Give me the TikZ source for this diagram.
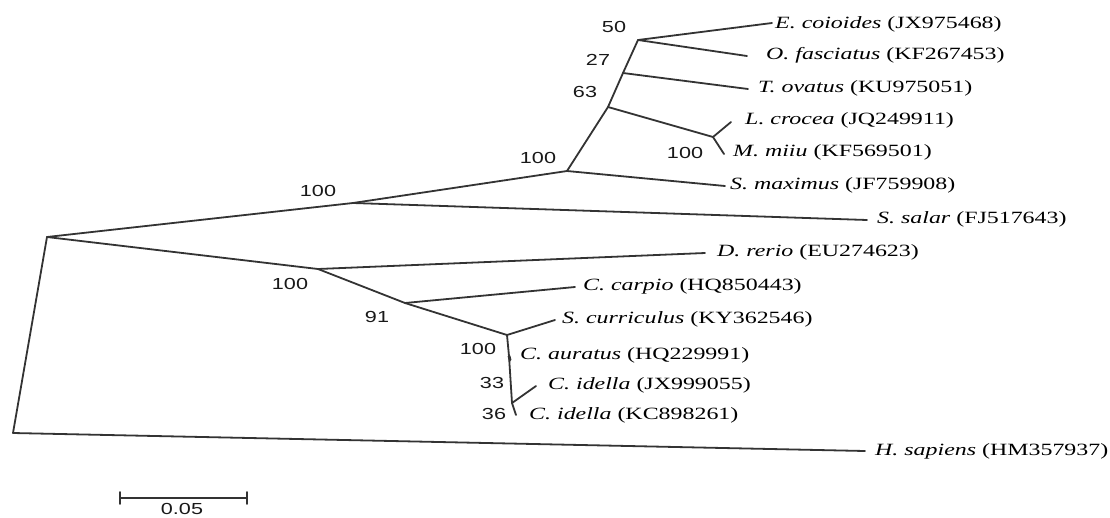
\documentclass[tikz,border=0pt]{standalone}
\usepackage{fontspec}
\newfontfamily\leaffont{Liberation Serif}[FakeStretch=1.39]
\newfontfamily\bsfont{Liberation Sans}[FakeStretch=1.35]
\begin{document}
\begin{tikzpicture}[x=1pt,y=-1pt,
  br/.style={draw=black!80, line width=1.8pt, line join=round, line cap=round},
  leaf/.style={anchor=west, inner sep=0pt, font=\leaffont\fontsize{17.2}{20}\selectfont},
  bs/.style={inner sep=0pt, font=\bsfont\fontsize{16}{19}\selectfont, text=black!90}]
\useasboundingbox (0,0) rectangle (1110,517);
% internal nodes
\coordinate (R) at (47,237);
\coordinate (Hc) at (13,433);
\coordinate (A) at (353,203);
\coordinate (B) at (567,171);
\coordinate (C) at (608,107);
\coordinate (D) at (623,73);
\coordinate (F) at (638,40);
\coordinate (E) at (713,137);
\coordinate (H) at (318,269);
\coordinate (I) at (405,303);
\coordinate (J) at (507,335);
\coordinate (K) at (509,356);
\coordinate (L) at (512,403);
% leaf ends
\coordinate (eco) at (772,23);
\coordinate (ofa) at (747,56);
\coordinate (tov) at (748,89);
\coordinate (lcr) at (731,122);
\coordinate (mmi) at (724,154);
\coordinate (smx) at (725,186);
\coordinate (ssa) at (867,220);
\coordinate (dre) at (705,253);
\coordinate (cca) at (575,287);
\coordinate (scu) at (555,320);
\coordinate (cau) at (510,360);
\coordinate (cij) at (536,386);
\coordinate (cik) at (516,415);
\coordinate (hsa) at (865,451);
% branches
\draw[br] (R) -- (A) -- (B) -- (C) -- (D) -- (F) -- (eco);
\draw[br] (F) -- (ofa);
\draw[br] (D) -- (tov);
\draw[br] (C) -- (E) -- (lcr);
\draw[br] (E) -- (mmi);
\draw[br] (B) -- (smx);
\draw[br] (A) -- (ssa);
\draw[br] (R) -- (H) -- (dre);
\draw[br] (H) -- (I) -- (cca);
\draw[br] (I) -- (J) -- (scu);
\draw[br] (J) -- (K) -- (L) -- (cik);
\draw[br, line width=2.8pt] (K) -- (cau);
\draw[br] (L) -- (cij);
\draw[br] (R) -- (Hc) -- (hsa);
% leaf labels
\node[leaf] (teco) at (775,24) {\textit{E. coioides} (JX975468)};
\node[leaf] (tofa) at (766,55) {\textit{O. fasciatus} (KF267453)};
\node[leaf] (ttov) at (758,88) {\textit{T. ovatus} (KU975051)};
\node[leaf] (tlcr) at (745,120) {\textit{L. crocea} (JQ249911)};
\node[leaf] (tmmi) at (733,152) {\textit{M. miiu} (KF569501)};
\node[leaf] (tsmx) at (730,185) {\textit{S. maximus} (JF759908)};
\node[leaf] (tssa) at (877,219) {\textit{S. salar} (FJ517643)};
\node[leaf] (tdre) at (717,252) {\textit{D. rerio} (EU274623)};
\node[leaf] (tcca) at (583,286) {\textit{C. carpio} (HQ850443)};
\node[leaf] (tscu) at (562,319) {\textit{S. curriculus} (KY362546)};
\node[leaf] (tcau) at (520,355) {\textit{C. auratus} (HQ229991)};
\node[leaf] (tcij) at (548,385) {\textit{C. idella} (JX999055)};
\node[leaf] (tcik) at (529,415) {\textit{C. idella} (KC898261)};
\node[leaf] (thsa) at (875,451) {\textit{H. sapiens} (HM357937)};
% bootstrap values
\node[bs] (bA) at (318,191) {100};
\node[bs] (bB) at (538,158) {100};
\node[bs] (bC) at (585,92) {63};
\node[bs] (bD) at (598,60) {27};
\node[bs] (bF) at (614,27) {50};
\node[bs] (bE) at (685,153) {100};
\node[bs] (bH) at (290,284) {100};
\node[bs] (bI) at (377,317) {91};
\node[bs] (bJ) at (478,349) {100};
\node[bs] (bK) at (492,383) {33};
\node[bs] (bL) at (494,414) {36};
% scale bar
\coordinate (s1) at (120,498);
\coordinate (s2) at (247,498);
\draw[br] (s1) -- (s2);
\draw[br] ([yshift=-6pt]s1) -- ([yshift=6pt]s1);
\draw[br] ([yshift=-6pt]s2) -- ([yshift=6pt]s2);
\node[bs] (sl) at (182,509) {0.05};
\end{tikzpicture}
\end{document}
